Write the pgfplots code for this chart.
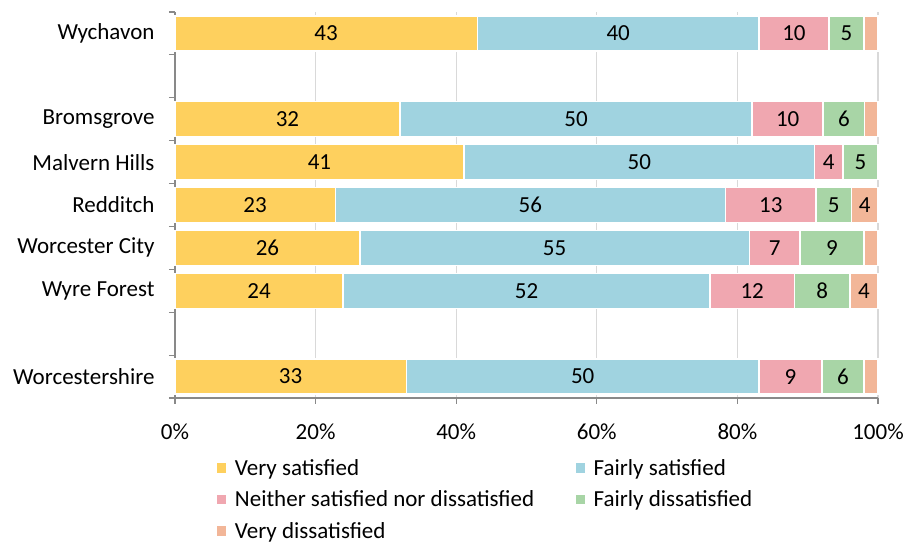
\documentclass[border=0pt]{standalone}
\usepackage{fontspec}
\setmainfont{Carlito}
\usepackage{pgfplots}
\pgfplotsset{compat=1.18}
\definecolor{cVS}{RGB}{254,208,94}
\definecolor{cFS}{RGB}{160,211,224}
\definecolor{cN}{RGB}{240,167,176}
\definecolor{cFD}{RGB}{168,213,166}
\definecolor{cVD}{RGB}{242,182,152}
\definecolor{axisgray}{RGB}{137,137,137}
\definecolor{gridgray}{RGB}{217,217,217}
\begin{document}
\begin{tikzpicture}[font=\fontsize{23}{27}\selectfont]
\useasboundingbox (-175pt,-147pt) rectangle (733pt,398pt);
\begin{axis}[
  at={(0,0)}, anchor=south west,
  scale only axis,
  width=703pt, height=386pt,
  xbar stacked,
  bar width=35pt,
  xmin=0, xmax=100,
  ymin=-0.5, ymax=8.5,
  axis lines=left,
  axis line style={-, axisgray, line width=1.2pt},
  xtick={0,20,...,100},
  xticklabels={0\%,20\%,40\%,60\%,80\%,100\%},
  xticklabel style={yshift=-16pt},
  ytick={0,2,3,4,5,6,8},
  yticklabels={Worcestershire,Wyre Forest,Worcester City,Redditch,Malvern Hills,Bromsgrove,Wychavon},
  yticklabel style={xshift=-11pt},
  minor ytick={-0.5,0.5,...,8.5},
  tick align=outside,
  major tick length=6pt,
  minor tick length=6pt,
  major y tick style={draw=none},
  minor y tick style={axisgray, line width=1.2pt},
  major x tick style={axisgray, line width=1.2pt},
  xmajorgrids,
  grid style={gridgray, line width=1.2pt},
  clip=false,
  point meta=explicit symbolic,
  nodes near coords,
  every node near coord/.append style={font=\fontsize{23}{27}\selectfont, text=black},
  legend columns=2,
  legend style={at={(0.053,-0.148)}, anchor=north west, draw=none, fill=none,
    font=\fontsize{23}{27}\selectfont,
    /tikz/every odd column/.append style={column sep=5pt},
    /tikz/every even column/.append style={column sep=38pt},
    row sep=10pt},
  legend cell align=left,
  legend image code/.code={\fill[#1] (0pt,-5.5pt) rectangle (11pt,5.5pt);},
  every axis plot/.append style={draw=white, line width=1.5pt},
]
\addplot[fill=cVS] coordinates {(32.9,0)[33] (23.9,2)[24] (26.3,3)[26] (22.8,4)[23] (41.1,5)[41] (32,6)[32] (43,8)[43]};
\addplot[fill=cFS] coordinates {(50.2,0)[50] (52.2,2)[52] (55.4,3)[55] (55.5,4)[56] (49.9,5)[50] (50.1,6)[50] (40.1,8)[40]};
\addplot[fill=cN] coordinates {(8.9,0)[9] (12,2)[12] (7.2,3)[7] (12.9,4)[13] (4,5)[4] (10.1,6)[10] (9.9,8)[10]};
\addplot[fill=cFD] coordinates {(6,0)[6] (7.9,2)[8] (9.1,3)[9] (5,4)[5] (5,5)[5] (5.9,6)[6] (5,8)[5]};
\addplot[fill=cVD] coordinates {(2,0)[{}] (4,2)[4] (2,3)[{}] (3.8,4)[4] (0,5)[{}] (1.9,6)[{}] (2,8)[{}]};
\legend{Very satisfied, Fairly satisfied, Neither satisfied nor dissatisfied, Fairly dissatisfied, Very dissatisfied}
\end{axis}
\end{tikzpicture}
\end{document}
